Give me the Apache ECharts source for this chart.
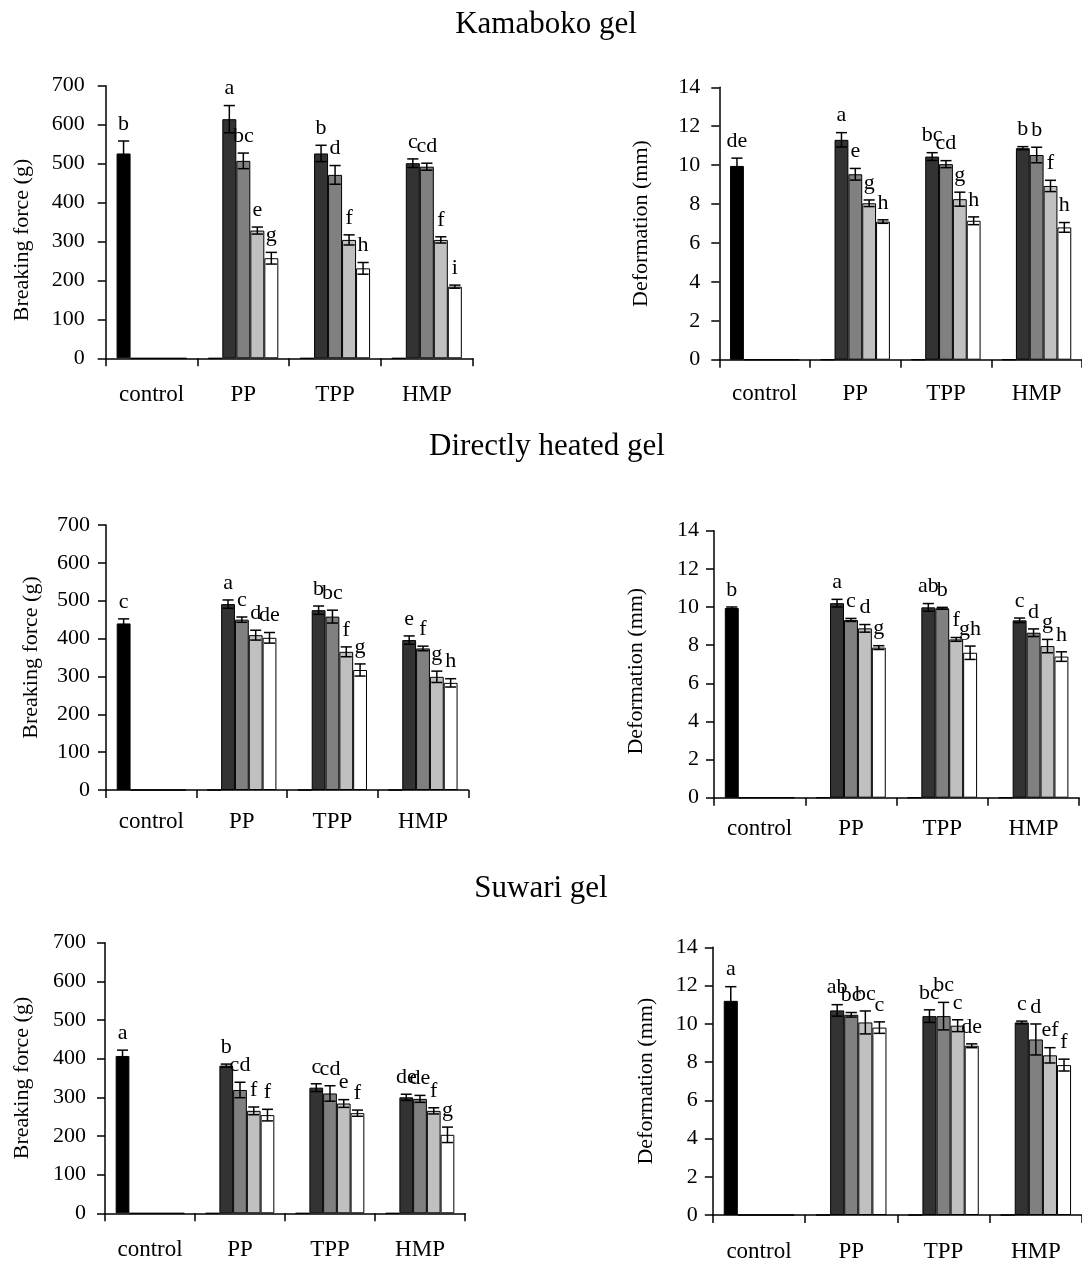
<!DOCTYPE html>
<html>
<head>
<meta charset="utf-8">
<title>Gel properties</title>
<script src="https://cdn.jsdelivr.net/npm/echarts@6/dist/echarts.min.js"></script>
<style>
  html, body { margin: 0; padding: 0; background: #fff; }
  #main { width: 1082px; height: 1263px; }
</style>
</head>
<body>
<div id="main"></div>
<script>
var categories = ['control', 'PP', 'TPP', 'HMP'];

// values per category: control has one bar, each treatment has four
var kamForceMean = [[526], [614, 507, 328, 257], [526, 471, 304, 231], [501, 492, 304, 184]];
var kamForceSd = [[32], [35, 20, 9, 15], [21, 24, 13, 15], [11, 9, 8, 4]];
var kamForceLetters = [['b'], ['a', 'bc', 'e', 'g'], ['b', 'd', 'f', 'h'], ['c', 'cd', 'f', 'i']];

var kamDeformMean = [[9.96], [11.3, 9.53, 8.04, 7.1], [10.44, 10.05, 8.25, 7.14], [10.87, 10.52, 8.93, 6.8]];
var kamDeformSd = [[0.4], [0.37, 0.3, 0.17, 0.09], [0.2, 0.18, 0.36, 0.2], [0.08, 0.4, 0.29, 0.25]];
var kamDeformLetters = [['de'], ['a', 'e', 'g', 'h'], ['bc', 'cd', 'g', 'h'], ['b', 'b', 'f', 'h']];

var dhForceMean = [[440], [491, 450, 409, 402], [475, 458, 365, 317], [396, 374, 299, 283]];
var dhForceSd = [[12], [11, 7, 13, 14], [11, 17, 13, 16], [11, 6, 15, 11]];
var dhForceLetters = [['c'], ['a', 'c', 'd', 'de'], ['b', 'bc', 'f', 'g'], ['e', 'f', 'g', 'h']];

var dhDeformMean = [[9.95], [10.2, 9.32, 8.88, 7.87], [9.98, 9.93, 8.3, 7.6], [9.3, 8.65, 7.95, 7.4]];
var dhDeformSd = [[0.05], [0.2, 0.08, 0.2, 0.1], [0.2, 0.05, 0.1, 0.35], [0.12, 0.2, 0.35, 0.25]];
var dhDeformLetters = [['b'], ['a', 'c', 'd', 'g'], ['ab', 'b', 'f', 'gh'], ['c', 'd', 'g', 'h']];

var suwForceMean = [[407], [382, 319, 265, 254], [325, 310, 284, 259], [300, 296, 265, 203]];
var suwForceSd = [[15], [4, 20, 10, 15], [10, 20, 10, 8], [8, 9, 8, 20]];
var suwForceLetters = [['a'], ['b', 'cd', 'f', 'f'], ['c', 'cd', 'e', 'f'], ['de', 'de', 'f', 'g']];

var suwDeformMean = [[11.2], [10.7, 10.47, 10.07, 9.8], [10.4, 10.4, 9.9, 8.85], [10.07, 9.18, 8.35, 7.84]];
var suwDeformSd = [[0.74], [0.3, 0.12, 0.6, 0.3], [0.33, 0.72, 0.31, 0.1], [0.07, 0.81, 0.4, 0.31]];
var suwDeformLetters = [['a'], ['ab', 'bc', 'bc', 'c'], ['bc', 'bc', 'c', 'de'], ['c', 'd', 'ef', 'f']];

var barColors = ['#000000', '#333333', '#808080', '#c0c0c0', '#ffffff'];
var font = 'Liberation Serif, Times New Roman, serif';
var catGap = 0.237;

// panel layout: [left, top, width, height]
var panels = [
    { box: [105.7, 85.7, 367, 272.6], max: 700, step: 100, name: 'Breaking force (g)', gap: 72, pad: [0, 36, 0, 0], lm: 21, cm: 25,
      mean: kamForceMean, sd: kamForceSd, letters: kamForceLetters },
    { box: [719.3, 87.3, 370, 272.4], max: 14, step: 2, name: 'Deformation (mm)', gap: 67, pad: 0, lm: 19, cm: 23,
      mean: kamDeformMean, sd: kamDeformSd, letters: kamDeformLetters },
    { box: [106, 525, 362.3, 265], max: 700, step: 100, name: 'Breaking force (g)', gap: 64, pad: 0, lm: 16, cm: 20,
      mean: dhForceMean, sd: dhForceSd, letters: dhForceLetters },
    { box: [714, 530.7, 365.2, 267], max: 14, step: 2, name: 'Deformation (mm)', gap: 67, pad: [0, 14, 0, 0], lm: 15, cm: 20,
      mean: dhDeformMean, sd: dhDeformSd, letters: dhDeformLetters },
    { box: [105, 942.7, 360, 270.6], max: 700, step: 100, name: 'Breaking force (g)', gap: 72, pad: 0, lm: 19, cm: 25,
      mean: suwForceMean, sd: suwForceSd, letters: suwForceLetters },
    { box: [712.8, 947.3, 373, 271], max: 14, step: 2, name: 'Deformation (mm)', gap: 56, pad: 0, lm: 15, cm: 25,
      mean: suwDeformMean, sd: suwDeformSd, letters: suwDeformLetters }
];

var grids = [], xAxes = [], yAxes = [], series = [];

panels.forEach(function (p, idx) {
    grids.push({ left: p.box[0], top: p.box[1], width: p.box[2], height: p.box[3], containLabel: false });
    xAxes.push({
        type: 'category', gridIndex: idx, data: categories,
        axisLine: { lineStyle: { color: '#000', width: 1.5 } },
        axisTick: { show: true, length: 8, lineStyle: { color: '#000', width: 1.5 } },
        axisLabel: { color: '#000', fontFamily: font, fontSize: 23, margin: p.cm }
    });
    yAxes.push({
        type: 'value', gridIndex: idx, min: 0, max: p.max, interval: p.step,
        name: p.name, nameLocation: 'middle', nameGap: p.gap,
        nameTextStyle: { color: '#000', fontFamily: font, fontSize: 22, padding: p.pad },
        axisLine: { show: true, lineStyle: { color: '#000', width: 1.5 } },
        axisTick: { show: true, length: 8, lineStyle: { color: '#000', width: 1.5 } },
        axisLabel: { color: '#000', fontFamily: font, fontSize: 22, margin: p.lm },
        splitLine: { show: false }
    });

    // five bar series: black (control only) and four treatments
    for (var s = 0; s < 5; s++) {
        var vals = categories.map(function (c, i) {
            if (i === 0) return s === 0 ? p.mean[0][0] : 0;
            return s === 0 ? 0 : p.mean[i][s - 1];
        });
        series.push({
            type: 'bar', xAxisIndex: idx, yAxisIndex: idx,
            barGap: '0%', barCategoryGap: (catGap * 100) + '%',
            itemStyle: { color: barColors[s], borderColor: '#000', borderWidth: 1 },
            data: vals, silent: true, animation: false
        });
    }

    // error bars and letters
    var errData = [], errLetters = [];
    p.mean.forEach(function (group, i) {
        group.forEach(function (v, j) {
            errData.push([i, i === 0 ? 0 : j + 1, v, p.sd[i][j]]);
            errLetters.push(p.letters[i][j]);
        });
    });
    series.push({
        type: 'custom', xAxisIndex: idx, yAxisIndex: idx, z: 5,
        silent: true, animation: false,
        encode: { x: 0, y: 2 },
        data: errData,
        renderItem: function (params, api) {
            var cat = api.value(0), slot = api.value(1), v = api.value(2), e = api.value(3);
            var band = api.size([1, 0])[0];
            var barW = band * (1 - catGap) / 5;
            var mid = api.coord([cat, v]);
            var x = mid[0] - 2.5 * barW + (slot + 0.5) * barW;
            var yHi = api.coord([cat, v + e])[1];
            var yLo = api.coord([cat, v - e])[1];
            var cap = barW * 0.4;
            var ls = { stroke: '#000', lineWidth: 1.5 };
            return {
                type: 'group',
                children: [
                    { type: 'line', shape: { x1: x, y1: yHi, x2: x, y2: yLo }, style: ls },
                    { type: 'line', shape: { x1: x - cap, y1: yHi, x2: x + cap, y2: yHi }, style: ls },
                    { type: 'line', shape: { x1: x - cap, y1: yLo, x2: x + cap, y2: yLo }, style: ls },
                    { type: 'text', x: x, y: yHi - 6,
                      style: { text: errLetters[params.dataIndex], fill: '#000', font: '22px ' + font,
                               textAlign: 'center', textVerticalAlign: 'bottom' } }
                ]
            };
        }
    });
});

var chart = echarts.init(document.getElementById('main'));
chart.setOption({
    backgroundColor: '#fff',
    animation: false,
    graphic: [
        { type: 'text', x: 546, y: 24.5, style: { text: 'Kamaboko gel', font: '31px ' + font, fill: '#000', textAlign: 'center', textVerticalAlign: 'middle' } },
        { type: 'text', x: 547, y: 447, style: { text: 'Directly heated gel', font: '31px ' + font, fill: '#000', textAlign: 'center', textVerticalAlign: 'middle' } },
        { type: 'text', x: 541, y: 888.5, style: { text: 'Suwari gel', font: '31px ' + font, fill: '#000', textAlign: 'center', textVerticalAlign: 'middle' } }
    ],
    grid: grids,
    xAxis: xAxes,
    yAxis: yAxes,
    series: series
});
</script>
</body>
</html>
